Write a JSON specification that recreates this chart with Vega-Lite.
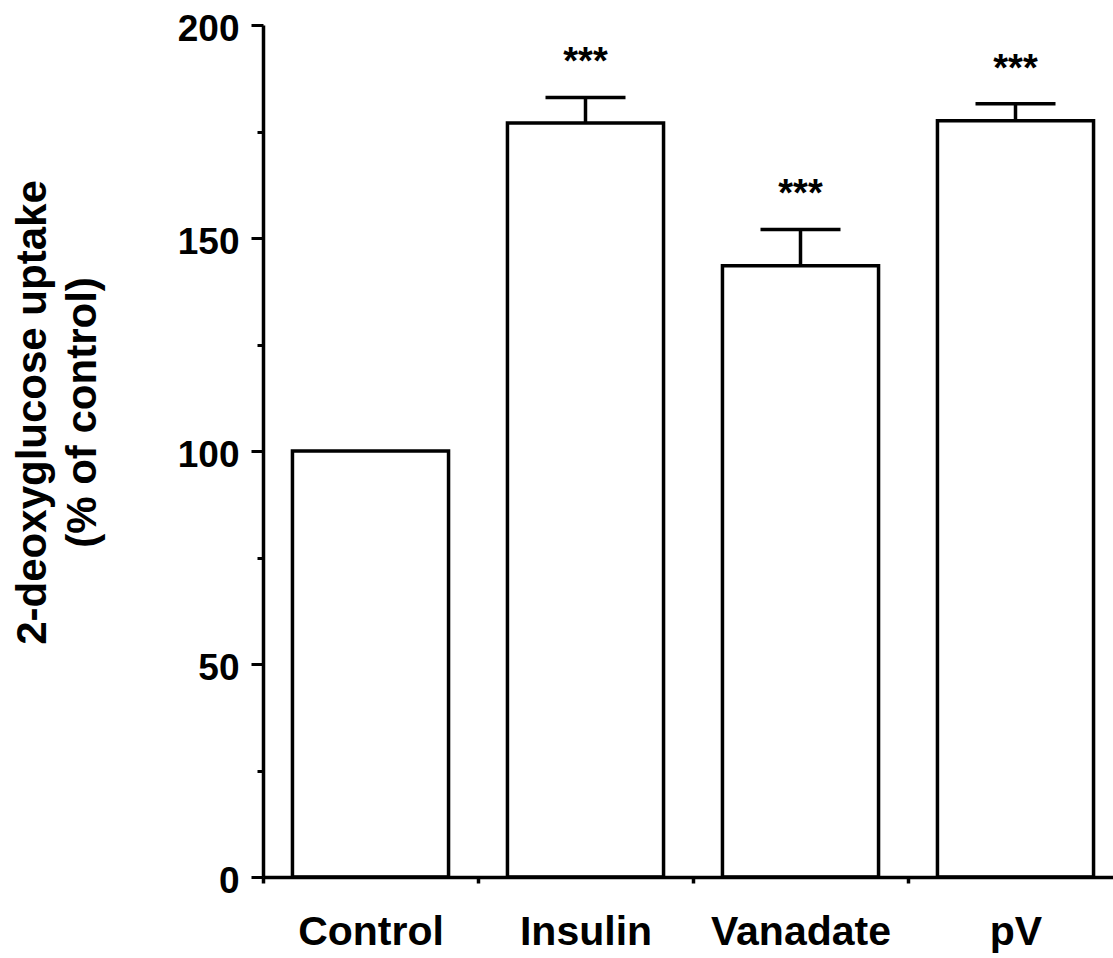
{
  "$schema": "https://vega.github.io/schema/vega-lite/v6.json",
  "width": 850,
  "height": 852,
  "autosize": "none",
  "padding": {"left": 263, "top": 25, "right": 0, "bottom": 81},
  "background": "white",
  "config": {"view": {"stroke": null}, "font": "Liberation Sans"},
  "data": {
    "values": [
      {"treatment": "Control", "value": 100},
      {"treatment": "Insulin", "value": 177, "upper": 183, "sig": "***"},
      {"treatment": "Vanadate", "value": 143.5, "upper": 152, "sig": "***"},
      {"treatment": "pV", "value": 177.5, "upper": 181.5, "sig": "***"}
    ]
  },
  "encoding": {
    "x": {
      "field": "treatment",
      "type": "nominal",
      "sort": null,
      "scale": {"type": "band", "range": [0, 860], "paddingInner": 0, "paddingOuter": 0},
      "axis": {
        "title": null,
        "labelAngle": 0,
        "labelLimit": 0,
        "labelFont": "Liberation Sans",
        "labelFontSize": 41,
        "labelFontWeight": "bold",
        "labelColor": "black",
        "labelBaseline": "top",
        "labelPadding": 29,
        "tickSize": 6,
        "tickWidth": 3.5,
        "tickColor": "black",
        "tickBand": "extent",
        "domainColor": "black",
        "domainWidth": 3.5,
        "grid": false,
        "zindex": 1
      }
    }
  },
  "layer": [
    {
      "mark": {"type": "bar", "fill": "white", "stroke": "black", "strokeWidth": 3.5, "width": {"band": 0.726}},
      "encoding": {
        "y": {
          "field": "value",
          "type": "quantitative",
          "scale": {"domain": [0, 200], "nice": false},
          "axis": {
            "values": [0, 25, 50, 75, 100, 125, 150, 175, 200],
            "labelExpr": "datum.value % 50 === 0 ? datum.label : ''",
            "tickSize": {"condition": {"test": "datum.value % 50 === 0", "value": 12}, "value": 6},
            "tickWidth": 3,
            "tickColor": "black",
            "labelPadding": 12,
            "labelFont": "Liberation Sans",
            "labelFontSize": 37,
            "labelFontWeight": "bold",
            "labelColor": "black",
            "labelOffset": 4,
            "domainColor": "black",
            "domainWidth": 3.5,
            "grid": false,
            "zindex": 1,
            "title": ["2-deoxyglucose uptake", "(% of control)"],
            "titleFont": "Liberation Sans",
            "titleFontSize": 42,
            "titleFontWeight": "bold",
            "titleColor": "black",
            "titleLineHeight": 50,
            "titleAngle": -90,
            "titleAlign": "center",
            "titleBaseline": "alphabetic",
            "titleX": -218,
            "titleY": 387
          }
        }
      }
    },
    {
      "transform": [{"filter": "isValid(datum.upper)"}],
      "mark": {"type": "rule", "stroke": "black", "strokeWidth": 3.5},
      "encoding": {
        "y": {"field": "value", "type": "quantitative"},
        "y2": {"field": "upper"}
      }
    },
    {
      "transform": [{"filter": "isValid(datum.upper)"}],
      "mark": {"type": "tick", "color": "black", "size": 80, "thickness": 3.5, "opacity": 1},
      "encoding": {
        "y": {"field": "upper", "type": "quantitative"}
      }
    },
    {
      "transform": [{"filter": "isValid(datum.upper)"}],
      "mark": {"type": "text", "font": "Liberation Sans", "fontSize": 38, "fontWeight": "bold", "color": "black", "baseline": "alphabetic", "align": "center", "dy": -23},
      "encoding": {
        "y": {"field": "upper", "type": "quantitative"},
        "text": {"field": "sig"}
      }
    }
  ]
}
